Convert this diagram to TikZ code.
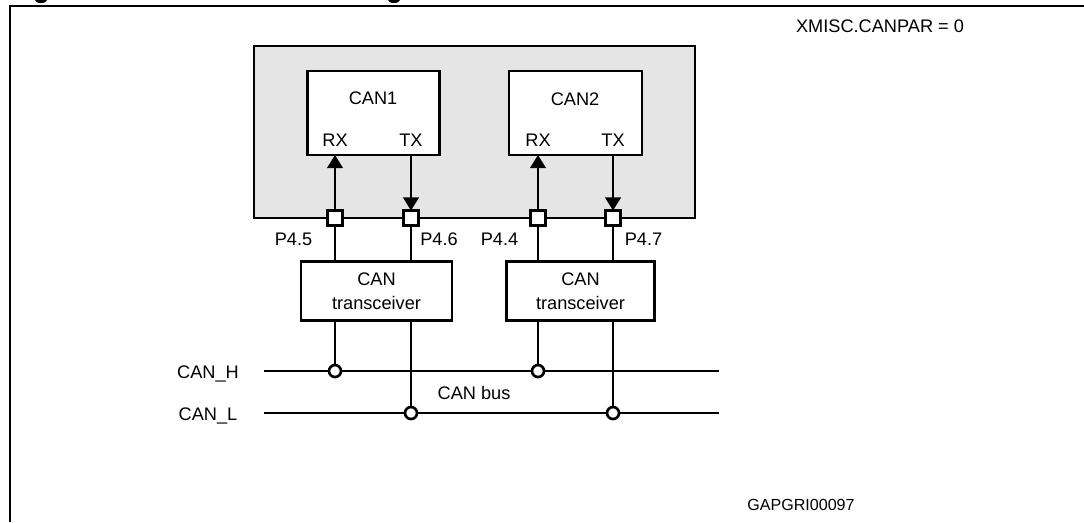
\documentclass[tikz,border=0pt]{standalone}
\usepackage{fontspec}
\setmainfont{Liberation Sans}
\usetikzlibrary{arrows.meta}
\tikzset{
    box/.style={draw,line width=1.5pt,fill=white,outer sep=0pt,inner sep=0pt,align=center},
    pin/.style={draw,line width=1.5pt,fill=white,outer sep=0pt,inner sep=0pt,minimum size=15*0.02cm},
    tap/.style={circle,draw,line width=1.5pt,fill=white,outer sep=0pt,inner sep=0pt,minimum size=12*0.02cm},
    wire/.style={line width=1.1pt},
    sig/.style={wire,-{Triangle[width=9pt,length=7.5pt]},shorten >=0pt},
    bus/.style={line width=1.6pt}
}
\begin{document}
\begin{tikzpicture}[x=0.02cm,y=-0.02cm,font=\fontsize{10.35}{12}\selectfont]
            \clip (0,0) rectangle (1084,522);
            % Frame and cut title
            \draw[line width=1.5pt] (10,522) -- (10,6) -- (1084,6);
            \fill (41,0) ellipse (6 and 3);
            \fill (394,0) ellipse (6 and 3);
            % Shaded device
            \draw[line width=1.6pt,fill=black!10] (254,46) rectangle (695,218);
            % Controllers
            \node[box,minimum width=132*0.02cm,minimum height=84*0.02cm] (can1) at (373.5,113) {};
            \node[box,minimum width=133*0.02cm,minimum height=84*0.02cm] (can2) at (575.5,113) {};
            \node (can1t) at (373,98) {CAN1};
            \node (can2t) at (575,99) {CAN2};
            % Port pins
            \node[pin] (p45) at (335,218) {};
            \node[pin] (p46) at (411,218) {};
            \node[pin] (p44) at (538,218) {};
            \node[pin] (p47) at (613,218) {};
            \node (rx1) at (335,140) {RX};
            \node (tx1) at (411,140) {TX};
            \node (rx2) at (538,140) {RX};
            \node (tx2) at (613,140) {TX};
            \node (p45t) at (293.5,239) {P4.5};
            \node (p46t) at (439,239) {P4.6};
            \node (p44t) at (499.5,239) {P4.4};
            \node (p47t) at (643.5,239) {P4.7};
            % Arrows inside the device
            \draw[sig] (p45.north) -- (p45 |- can1.south);
            \draw[sig] (p46 |- can1.south) -- (p46.north);
            \draw[sig] (p44.north) -- (p44 |- can2.south);
            \draw[sig] (p47 |- can2.south) -- (p47.north);
            % Transceivers
            \node[box,minimum width=151*0.02cm,minimum height=59*0.02cm] (trx1) at (376.5,291) {\raisebox{-1pt}{CAN}\\[1.5pt]\raisebox{-1pt}{transceiver}};
            \node[box,minimum width=148*0.02cm,minimum height=59*0.02cm] (trx2) at (580.5,291) {\raisebox{-1pt}{CAN}\\[1.5pt]\raisebox{-1pt}{transceiver}};
            % Bus lines
            \node (canh) at (208,374) {CAN\_H};
            \node (canl) at (208,416) {CAN\_L};
            \node (busname) at (474,393) {CAN bus};
            \coordinate (hs) at (264,371);
            \coordinate (he) at (719,371);
            \coordinate (ls) at (264,413);
            \coordinate (le) at (719,413);
            \draw[bus] (hs) -- (he);
            \draw[bus] (ls) -- (le);
            % Wires from pins to transceivers
            \draw[wire] (p45.south) -- (p45 |- trx1.north);
            \draw[wire] (p46.south) -- (p46 |- trx1.north);
            \draw[wire] (p44.south) -- (p44 |- trx2.north);
            \draw[wire] (p47.south) -- (p47 |- trx2.north);
            % Bus taps
            \node[tap] (h1) at (335,371) {};
            \node[tap] (l1) at (411,413) {};
            \node[tap] (h2) at (538,371) {};
            \node[tap] (l2) at (613,413) {};
            \draw[wire] (p45 |- trx1.south) -- (h1.north);
            \draw[wire] (p46 |- trx1.south) -- (l1.north);
            \draw[wire] (p44 |- trx2.south) -- (h2.north);
            \draw[wire] (p47 |- trx2.south) -- (l2.north);
            % Notes
            \node (mode) at (880,26) {XMISC.CANPAR = 0};
            \node[font=\fontsize{9.15}{11}\selectfont] (code) at (801,505) {GAPGRI00097};
        \end{tikzpicture}
\end{document}
